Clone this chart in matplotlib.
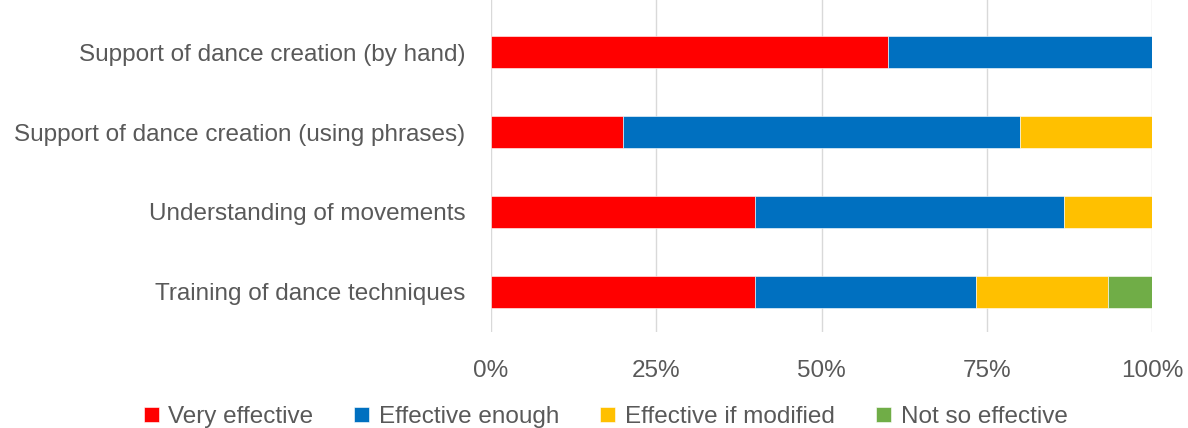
import matplotlib
matplotlib.use("Agg")
import matplotlib.pyplot as plt
import numpy as np

categories = ["Support of dance creation (by hand)",
              "Support of dance creation (using phrases)",
              "Understanding of movements",
              "Training of dance techniques"]
series = ["Very effective", "Effective enough", "Effective if modified", "Not so effective"]
very_effective = [60.0, 20.0, 40.0, 40.0]
effective_enough = [40.0, 60.0, 46.7, 33.3]
effective_if_modified = [0.0, 20.0, 13.3, 20.0]
not_so_effective = [0.0, 0.0, 0.0, 6.7]
colors = ["#FF0000", "#0070C0", "#FFC000", "#70AD47"]
xticks = [0, 25, 50, 75, 100]

plt.rcParams["font.family"] = ["Liberation Sans", "DejaVu Sans"]
txt = "#595959"
fs = 17.5

fig = plt.figure(figsize=(11.88, 4.28), dpi=100)
ax = fig.add_axes([491 / 1188, 1 - 332 / 428, 661 / 1188, 332 / 428])

y = np.arange(len(categories))
left = np.zeros(len(categories))
for name, vals, c in zip(series,
                         [very_effective, effective_enough, effective_if_modified, not_so_effective],
                         colors):
    vals = np.asarray(vals)
    ax.barh(y, vals, left=left, height=0.4, color=c, label=name,
            edgecolor="white", linewidth=0.4, zorder=3)
    left += vals

ax.set_ylim(3.5, -0.65)
ax.set_xlim(0, 100)
ax.set_yticks(y)
ax.set_yticklabels(categories)
ax.set_xticks(xticks)
ax.set_xticklabels([f"{v}%" for v in xticks])
ax.tick_params(axis="both", length=0, labelsize=fs, labelcolor=txt)
ax.tick_params(axis="y", pad=18.5)
ax.tick_params(axis="x", pad=20)
ax.grid(axis="x", color="#D9D9D9", linewidth=1, zorder=0)
for s in ax.spines.values():
    s.set_visible(False)

leg = fig.legend(loc="center", bbox_to_anchor=(605.5 / 1188, 1 - 417 / 428), ncol=4, frameon=False,
                 fontsize=fs, handlelength=0.62, handleheight=0.62, handletextpad=0.4,
                 columnspacing=1.68, labelcolor=txt)

fig.savefig("out.png", dpi=100)
